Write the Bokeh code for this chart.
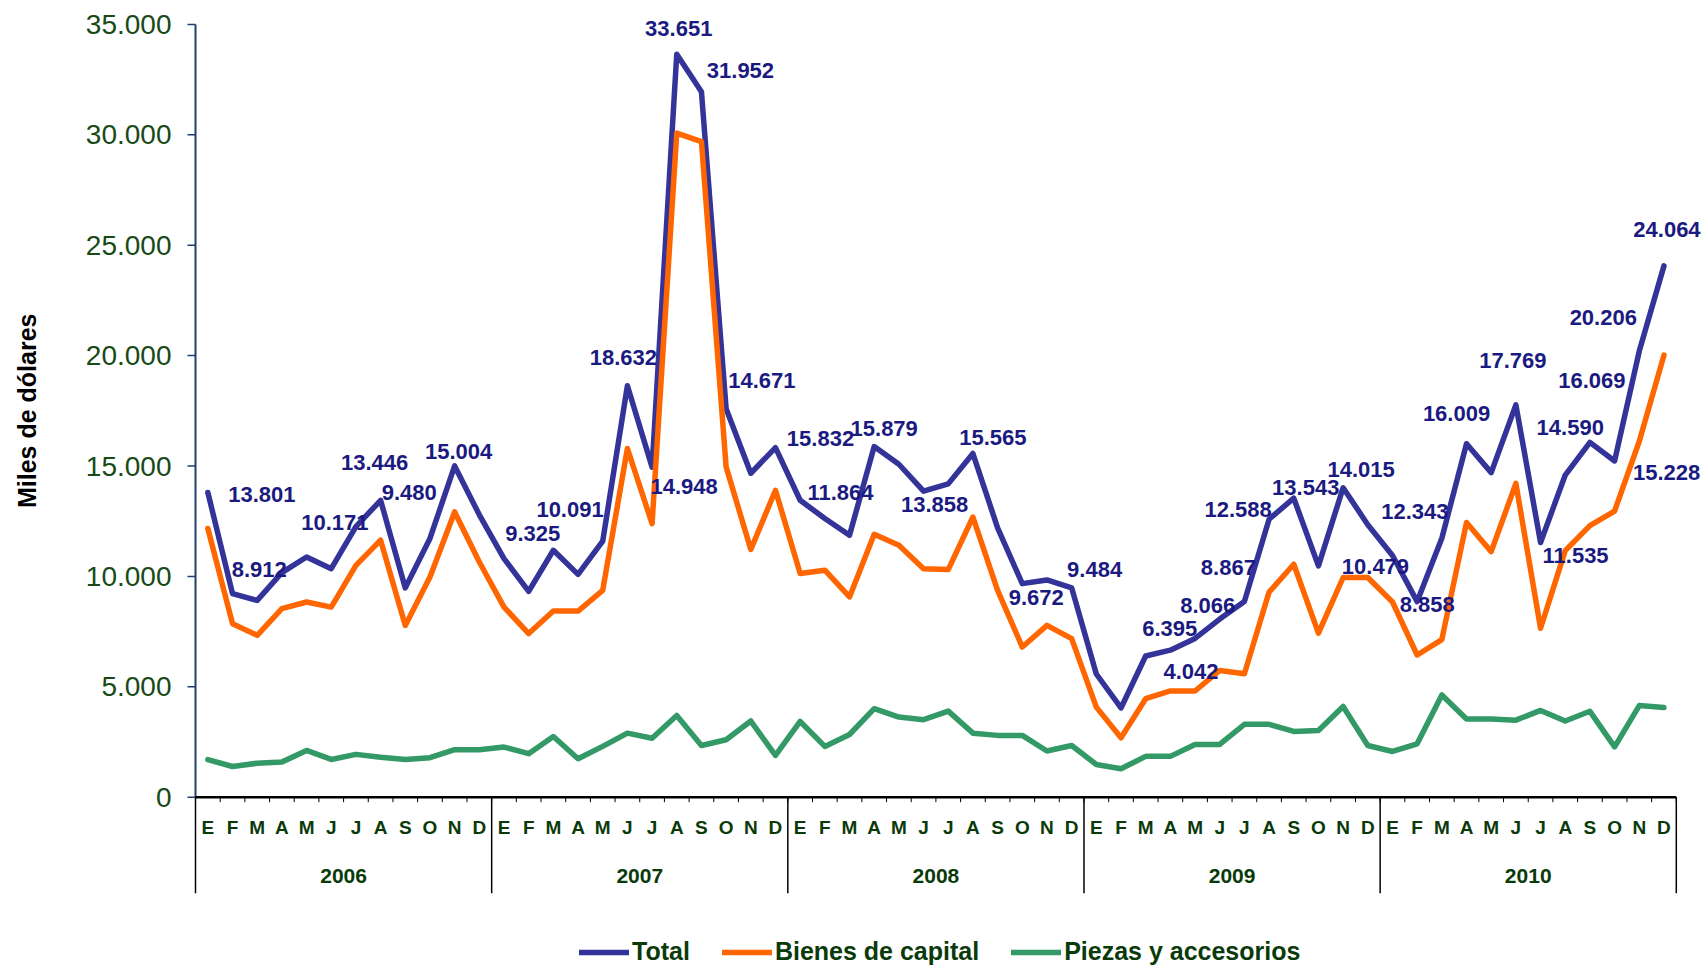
import math
from bokeh.plotting import figure
from bokeh.models import Range1d, Legend, LegendItem, ColumnDataSource
from bokeh.core.properties import value
from bokeh.embed import file_html
from bokeh.resources import INLINE

# ---------------- data ----------------
month_letters = ["E", "F", "M", "A", "M", "J", "J", "A", "S", "O", "N", "D"]
years = ["2006", "2007", "2008", "2009", "2010"]

total = [13801, 9220, 8912, 10171, 10880, 10350, 12250, 13446, 9480, 11720, 15004, 12790,
         10806, 9325, 11183, 10091, 11600, 18632, 14948, 33651, 31952, 17590, 14671, 15832,
         13450, 12620, 11864, 15879, 15080, 13858, 14190, 15565, 12200, 9672, 9840, 9484,
         5580, 4042, 6395, 6660, 7190, 8066, 8867, 12588, 13543, 10479, 14015, 12343,
         10950, 8858, 11730, 16009, 14700, 17769, 11535, 14590, 16069, 15228, 20206, 24064]

bienes = [12170, 7860, 7330, 8540, 8840, 8610, 10500, 11640, 7780, 9970, 12920, 10650,
          8610, 7410, 8430, 8430, 9370, 15790, 12390, 30080, 29690, 14960, 11220, 13900,
          10130, 10280, 9070, 11910, 11410, 10350, 10310, 12690, 9370, 6800, 7780, 7180,
          4080, 2690, 4460, 4810, 4810, 5740, 5590, 9290, 10550, 7430, 9950, 9950,
          8840, 6440, 7140, 12440, 11120, 14210, 7650, 11170, 12300, 12960, 16120, 20020]

piezas = [1700, 1390, 1540, 1590, 2120, 1710, 1940, 1810, 1710, 1790, 2150, 2150,
          2270, 1970, 2750, 1740, 2300, 2900, 2670, 3700, 2340, 2600, 3450, 1890,
          3430, 2300, 2840, 4010, 3630, 3510, 3900, 2900, 2800, 2800, 2090, 2340,
          1480, 1290, 1850, 1850, 2390, 2390, 3300, 3300, 2980, 3020, 4110, 2340,
          2070, 2420, 4630, 3540, 3540, 3490, 3930, 3450, 3890, 2280, 4150, 4060]

y_ticks = [0, 5000, 10000, 15000, 20000, 25000, 30000, 35000]
y_title = "Miles de dólares"

# months of the Total series that carry a value label
label_idx = [0, 2, 3, 7, 8, 10, 13, 15, 17, 18, 19, 20, 22, 23, 26, 27, 29, 31, 33, 35,
             37, 38, 41, 42, 43, 44, 45, 46, 47, 49, 51, 53, 54, 55, 56, 57, 58, 59]

# ---------------- style / layout (pixels) ----------------
label_dx = [54, 2, 53, -6, 4, 4, 4, -8, -4, 32, 2, 39, 11, 45, -9, 10, 11, 20, 14, 23,
            70, 24, -12, -16, -31, 12, 57, 18, 47, 10, -10, -3, 35, 5, 2, 52, -36, 3]
label_dy = [2, -31, -50, -38, -95, -14, -58, -65, -28, 19, -26, -21, -93, -9, -43, -18, 13, -16, 14, -18,
            -36, -27, -14, -34, -10, -11, 1, -18, -13, 3, -30, -44, 13, -48, -62, 12, -34, -36]

W, H = 1705, 966
AXIS_X_PX = 195          # position of the value axis from the left edge
PX_MONTH = 24.68
Y_ZERO_PX = 796.7
Y_TOP_PX = 23.9
YMAX = y_ticks[-1]
upp = YMAX / (Y_ZERO_PX - Y_TOP_PX)     # value units per pixel
mpp = 1.0 / PX_MONTH                    # month units per pixel
n = len(total)
x_start = -AXIS_X_PX * mpp
x_end = (W - AXIS_X_PX) * mpp
y_start = -(H - Y_ZERO_PX) * upp
y_end = YMAX + Y_TOP_PX * upp

FONT = "Liberation Sans"
GREEN_TXT = "#0a3a0a"
NAVY_TXT = "#1a1a80"
AXIS_BLUE = "#1f3f6f"

p = figure(width=W, height=H, x_range=Range1d(x_start, x_end), y_range=Range1d(y_start, y_end),
           output_backend="svg", toolbar_location=None, x_axis_type=None, y_axis_type=None,
           min_border_left=0, min_border_right=0, min_border_top=0, min_border_bottom=0)
p.outline_line_color = None
p.grid.visible = False

# ---- value axis ----
p.segment(x0=[0], y0=[0], x1=[0], y1=[YMAX], line_color=AXIS_BLUE, line_width=2)
p.segment(x0=[0] * len(y_ticks), y0=y_ticks, x1=[-8 * mpp] * len(y_ticks), y1=y_ticks,
          line_color=AXIS_BLUE, line_width=1.5)
p.text(x=[0] * len(y_ticks), y=y_ticks, text=[f"{t:,}".replace(",", ".") for t in y_ticks],
       x_offset=-24, text_font=value(FONT), text_font_size="28px", text_color="#184a18",
       text_align="right", text_baseline="middle")
p.text(x=[0], y=[YMAX / 2], text=[y_title], x_offset=26 - AXIS_X_PX, angle=math.pi / 2,
       text_font=value(FONT), text_font_size="25px", text_font_style="bold",
       text_color="black", text_align="center", text_baseline="middle")

# ---- series ----
xs = [i + 0.5 for i in range(n)]
src = ColumnDataSource(dict(x=xs, total=total, bienes=bienes, piezas=piezas))
lw = 5.5
r_total = p.line("x", "total", source=src, line_color="#333399", line_width=lw,
                 line_join="round", line_cap="round")
r_bienes = p.line("x", "bienes", source=src, line_color="#ff6600", line_width=lw,
                  line_join="round", line_cap="round")
r_piezas = p.line("x", "piezas", source=src, line_color="#339966", line_width=lw,
                  line_join="round", line_cap="round")

# ---- value labels ----
lab_src = ColumnDataSource(dict(
    x=[xs[i] for i in label_idx],
    y=[total[i] for i in label_idx],
    text=[f"{total[i]:,}".replace(",", ".") for i in label_idx],
    dx=label_dx, dy=label_dy))
p.text("x", "y", text="text", source=lab_src, x_offset="dx", y_offset="dy",
       text_font=value(FONT), text_font_size="22px", text_font_style="bold",
       text_color=NAVY_TXT, text_align="center", text_baseline="middle")

# ---- month / year axis ----
bounds = list(range(n + 1))
p.segment(x0=[0], y0=[0], x1=[n], y1=[0], line_color="black", line_width=2.5)
p.segment(x0=bounds, y0=[0] * len(bounds), x1=bounds, y1=[-5 * upp] * len(bounds),
          line_color="black", line_width=1)
year_bounds = list(range(0, n + 1, 12))
p.segment(x0=year_bounds, y0=[0] * len(year_bounds), x1=year_bounds,
          y1=[-96 * upp] * len(year_bounds), line_color="black", line_width=1.5)
p.text(x=xs, y=[-30 * upp] * n, text=month_letters * len(years),
       text_font=value(FONT), text_font_size="19px", text_font_style="bold",
       text_color=GREEN_TXT, text_align="center", text_baseline="middle")
p.text(x=[12 * k + 6 for k in range(len(years))], y=[-79 * upp] * len(years), text=years,
       text_font=value(FONT), text_font_size="21px", text_font_style="bold",
       text_color=GREEN_TXT, text_align="center", text_baseline="middle")

# ---- legend ----
legend = Legend(items=[LegendItem(label="Total", renderers=[r_total]),
                       LegendItem(label="Bienes de capital", renderers=[r_bienes]),
                       LegendItem(label="Piezas y accesorios", renderers=[r_piezas])],
                location=(AXIS_X_PX + 384, 0), orientation="horizontal")
legend.glyph_width = 50
legend.glyph_height = 20
legend.label_standoff = 3
legend.spacing = 32
legend.padding = 0
legend.margin = 0
legend.border_line_color = None
legend.background_fill_alpha = 0
legend.label_text_font = FONT
legend.label_text_font_size = "25px"
legend.label_text_font_style = "bold"
legend.label_text_color = GREEN_TXT
p.add_layout(legend)

open("out.html", "w").write(file_html(p, INLINE))
